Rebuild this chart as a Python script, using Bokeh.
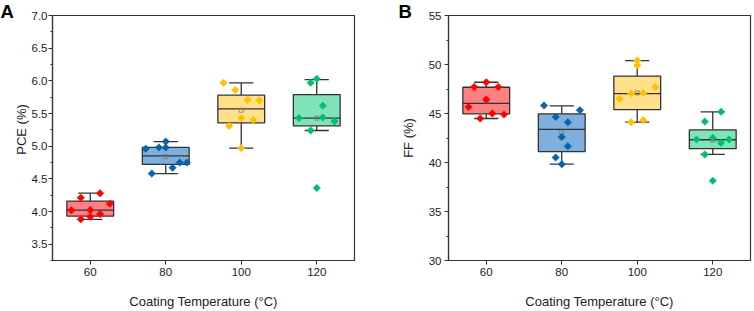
from bokeh.plotting import figure
from bokeh.layouts import row
from bokeh.models import FixedTicker, Range1d, Label, ColumnDataSource, NumeralTickFormatter
from bokeh.embed import file_html
from bokeh.resources import INLINE
import numpy as np

temps = [60, 80, 100, 120]
tick_labels = ["60", "80", "100", "120"]

# ---- Panel A: PCE (%) ----
pce_60 = [4.02, 4.21, 3.88, 4.02, 3.92, 4.28, 3.96, 4.12]
pce_80 = [4.96, 4.58, 4.98, 5.07, 4.98, 4.67, 4.75, 4.75]
pce_100 = [5.97, 5.31, 5.86, 5.43, 4.97, 5.71, 5.40, 5.70]
pce_120 = [5.43, 5.97, 5.24, 6.03, 4.36, 5.62, 5.44, 5.38]
jit_pce_60 = [-5.0, -2.5, -2.5, 0, 0, 2.6, 2.6, 5.2]
jit_pce_80 = [-5.3, -3.7, -1.8, 0, 0, 1.8, 3.7, 5.6]
jit_pce_100 = [-4.7, -3.2, -1.6, 0, 0, 1.7, 3.2, 4.8]
jit_pce_120 = [-4.7, -1.6, -1.6, 0, 0, 1.6, 1.6, 4.7]
pce_q1 = [3.93, 4.72, 5.355, 5.31]
pce_med = [4.02, 4.85, 5.57, 5.43]
pce_q3 = [4.16, 4.98, 5.78, 5.79]
pce_lo = [3.88, 4.58, 4.97, 5.24]
pce_hi = [4.28, 5.07, 5.97, 6.02]
pce_mean = [4.04, 4.84, 5.55, 5.43]

# ---- Panel B: FF (%) ----
ff_60 = [45.67, 47.71, 44.49, 48.19, 46.43, 45.0, 47.71, 44.9]
ff_80 = [45.82, 44.65, 40.51, 42.61, 39.83, 44.11, 41.66, 45.34]
ff_100 = [46.5, 47.04, 44.11, 50.42, 49.9, 47.1, 44.3, 47.71]
ff_120 = [42.35, 44.18, 40.82, 42.51, 38.14, 45.17, 42.0, 42.35]
jit_ff_60 = [-4.7, -3.2, -1.6, 0, 0, 1.6, 3.2, 4.7]
jit_ff_80 = [-4.7, -1.6, -1.6, 0, 0, 1.6, 1.6, 4.8]
jit_ff_100 = [-4.7, -1.6, -1.6, 0, 0, 1.6, 1.6, 4.8]
jit_ff_120 = [-4.3, -2.1, -2.1, 0, 0, 2.2, 2.2, 4.3]
ff_q1 = [44.97, 41.11, 45.39, 41.41]
ff_med = [46.04, 43.37, 47.02, 42.32]
ff_q3 = [47.68, 44.97, 48.81, 43.33]
ff_lo = [44.49, 39.83, 44.11, 40.82]
ff_hi = [48.19, 45.78, 50.40, 45.16]
ff_mean = [46.3, 43.09, 47.1, 42.27]

point_colors = ["#FF0000", "#0B63A5", "#FFC000", "#00C06A"]
box_colors = ["#FF8080", "#7DB0DC", "#FFE08A", "#80E3BA"]

FONT = "Liberation Sans"
TXT = "#222222"
BOX_W = 12.4
CAP_W = 6.4


def make_panel(ylabel, yr, major, minor, groups, jits, q1, med, q3, lo, hi, mean,
               border_left, label_standoff, yfmt, ylab_standoff):
    p = figure(width=377, height=311,
               frame_width=302, frame_height=245,
               min_border_left=border_left, min_border_right=377 - border_left - 302,
               min_border_top=15, min_border_bottom=51,
               x_range=Range1d(50, 130), y_range=Range1d(*yr),
               output_backend="svg", toolbar_location=None, tools="")
    p.grid.visible = False
    p.background_fill_color = "white"
    p.border_fill_color = "white"
    p.outline_line_color = "#333333"
    p.outline_line_width = 1.2

    t = np.array(temps, dtype=float)
    p.segment(x0=t, y0=np.array(q3), x1=t, y1=np.array(hi), line_color="#333333", line_width=1.3)
    p.segment(x0=t, y0=np.array(q1), x1=t, y1=np.array(lo), line_color="#333333", line_width=1.3)
    p.segment(x0=t - CAP_W / 2, y0=np.array(hi), x1=t + CAP_W / 2, y1=np.array(hi),
              line_color="#333333", line_width=1.3)
    p.segment(x0=t - CAP_W / 2, y0=np.array(lo), x1=t + CAP_W / 2, y1=np.array(lo),
              line_color="#333333", line_width=1.3)
    p.vbar(x=t, bottom=q1, top=q3, width=BOX_W, fill_color=box_colors,
           line_color="#333333", line_width=1.3)
    p.segment(x0=t - BOX_W / 2, y0=np.array(med), x1=t + BOX_W / 2, y1=np.array(med),
              line_color="#333333", line_width=1.3)
    p.scatter(x=t, y=mean, marker="square", size=4, fill_color=None,
              line_color="#777777", line_width=0.8)
    for i, (vals, jit) in enumerate(zip(groups, jits)):
        src = ColumnDataSource(dict(x=[temps[i] + j for j in jit], y=vals))
        p.scatter(x="x", y="y", source=src, marker="square", angle=np.pi / 4, size=5.3,
                  fill_color=point_colors[i], line_color=point_colors[i], line_width=0.5)

    p.xaxis.ticker = FixedTicker(ticks=temps)
    p.xaxis.major_label_overrides = {tv: lab for tv, lab in zip(temps, tick_labels)}
    p.yaxis.ticker = FixedTicker(ticks=major, minor_ticks=minor)
    p.yaxis.formatter = NumeralTickFormatter(format=yfmt)

    for ax in (p.xaxis[0], p.yaxis[0]):
        ax.axis_line_color = "#333333"
        ax.axis_line_width = 1.2
        ax.major_tick_line_color = "#333333"
        ax.minor_tick_line_color = "#333333"
        ax.major_tick_in = 0
        ax.major_tick_out = 4
        ax.minor_tick_in = 0
        ax.minor_tick_out = 2
        ax.major_label_text_font = FONT
        ax.major_label_text_font_size = "11.5px"
        ax.major_label_text_color = TXT
        ax.axis_label_text_font = FONT
        ax.axis_label_text_font_size = "13px"
        ax.axis_label_text_font_style = "normal"
        ax.axis_label_text_color = TXT
        ax.major_label_standoff = 3
    p.yaxis.major_label_standoff = ylab_standoff
    p.xaxis.minor_tick_line_color = None
    p.xaxis.axis_label = "Coating Temperature (°C)"
    p.xaxis.axis_label_standoff = 15
    if ylabel is not None:
        p.yaxis.axis_label = ylabel
        p.yaxis.axis_label_standoff = label_standoff
    return p


def letter_label(text, x, y):
    return Label(x=x, y=y, x_units="screen", y_units="screen", text=text,
                 text_font=FONT, text_font_size="18.5px", text_font_style="bold",
                 text_color="black", text_baseline="alphabetic")


pA = make_panel(None, (3.25, 7.0),
                [3.5, 4.0, 4.5, 5.0, 5.5, 6.0, 6.5, 7.0],
                [3.25, 3.75, 4.25, 4.75, 5.25, 5.75, 6.25, 6.75],
                [pce_60, pce_80, pce_100, pce_120],
                [jit_pce_60, jit_pce_80, jit_pce_100, jit_pce_120],
                pce_q1, pce_med, pce_q3, pce_lo, pce_hi, pce_mean,
                52, 3, "0.0", 1)
pB = make_panel("FF (%)", (30, 55),
                [30, 35, 40, 45, 50, 55],
                [32.5, 37.5, 42.5, 47.5, 52.5],
                [ff_60, ff_80, ff_100, ff_120],
                [jit_ff_60, jit_ff_80, jit_ff_100, jit_ff_120],
                ff_q1, ff_med, ff_q3, ff_lo, ff_hi, ff_mean,
                71, 10, "0", 3)

# y-axis title of panel A as a rotated label in the left side panel
pA.add_layout(Label(x=0, y=131, x_units="screen", y_units="screen", text="PCE (%)",
                    angle=np.pi / 2, text_align="center", text_baseline="top",
                    text_font=FONT, text_font_size="13px", text_color=TXT), "left")
pA.add_layout(letter_label("A", 0, 248.6), "left")
pB.add_layout(letter_label("B", 14, 248.6), "left")

layout = row(pA, pB, spacing=0)
open("out.html", "w").write(file_html(layout, INLINE))
